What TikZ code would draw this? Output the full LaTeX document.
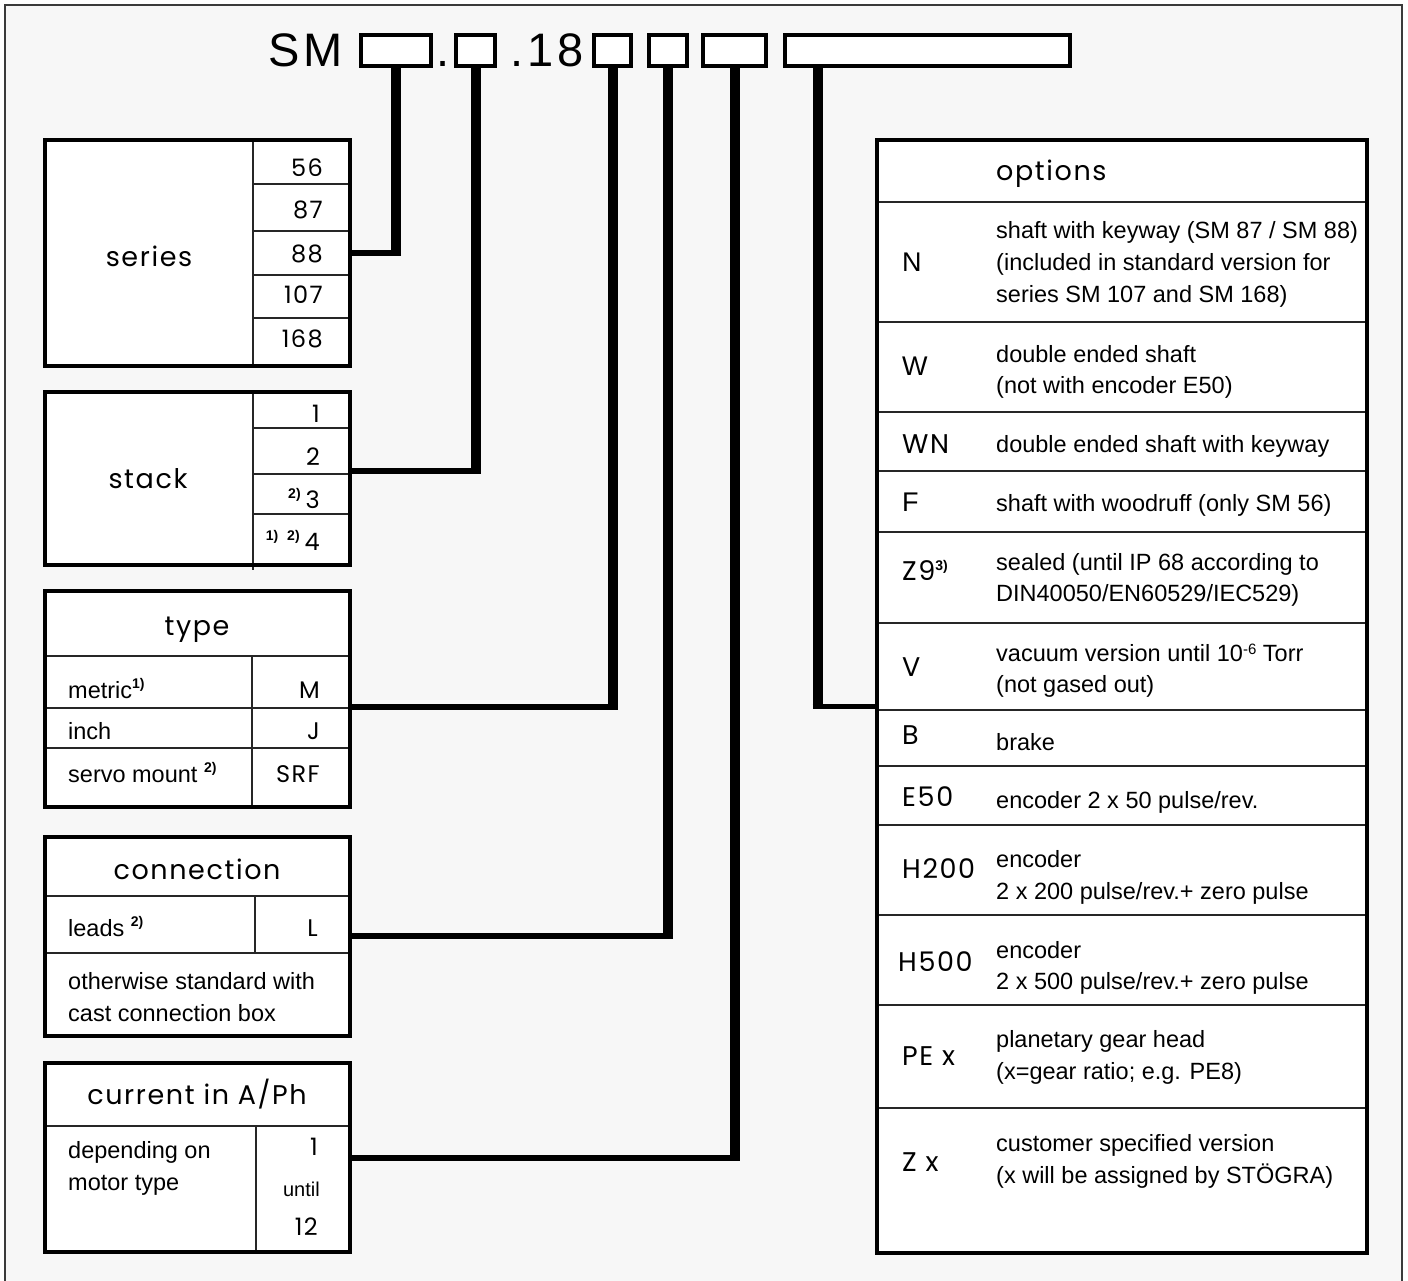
\documentclass[tikz,border=0pt]{standalone}
\usepackage{fontspec}
\usetikzlibrary{calc}
\setmainfont{Liberation Sans}
\newfontfamily\geofont{Poppins}[LetterSpace=6]
\newfontfamily\titlefont{Liberation Sans}[LetterSpace=8]
\newcommand{\fmark}[1]{\raisebox{10pt}{\normalfont\fontsize{14}{14}\selectfont\bfseries #1)}}
\definecolor{paper}{HTML}{F7F7F7}
\definecolor{framegray}{HTML}{3A3A3A}
\tikzset{
  panel/.style={draw, line width=4pt},
  rule/.style={line width=1.3pt, draw=black!85},
  slot/.style={draw, line width=4pt, fill=white, minimum height=31pt, inner sep=0pt},
  lead/.style={line width=10pt},
  tap/.style={line width=5.5pt},
  heading/.style={font=\geofont\fontsize{27}{32}\selectfont, inner sep=0pt},
  code/.style={font=\geofont\fontsize{24}{28}\selectfont, inner sep=0pt},
  optcode/.style={font=\geofont\fontsize{27}{30}\selectfont, inner sep=0pt},
  body/.style={font=\fontsize{23.5}{32}\selectfont, inner sep=0pt},
  title/.style={font=\titlefont\fontsize{47}{50}\selectfont, inner sep=0pt},
}
\begin{document}
\begin{tikzpicture}[x=1pt, y=-1pt]

\useasboundingbox (0,0) rectangle (1408,1280);
\clip (0,0) rectangle (1408,1280);
\fill[white] (0,0) rectangle (1408,1280);
\fill[paper] (5,5) rectangle (1402,1290);
\draw[framegray, line width=2pt] (5,1290) |- (1402,5) -- (1402,1290);

% type code
\node[title, anchor=base west] (sm) at (268,66) {SM};
\node[title, anchor=base] (dot) at (443,66) {.};
\node[title, anchor=base east] (num) at (584,66) {.18};

\foreach \x/\w [count=\i] in {396/70, 475.5/39, 612.5/37, 668/38, 734.5/63, 927.5/285}
  \node[slot, minimum width=\w pt] (slot-\i) at (\x,50.5) {};

\foreach \i in {1,...,5}
  \coordinate (stem-\i) at (slot-\i.south);
\coordinate (stem-6) at ([xshift=34.5pt]slot-6.south west);

\foreach \y [count=\i] in {253, 471, 707, 936, 1158}
  \coordinate (tap-\i) at (350,\y);
\coordinate (tap-6) at (877,706.5);

% panels
\foreach \xa/\ya/\xb/\yb in {45/140/350/366, 45/392/350/565, 45/591/350/807,
                             45/837/350/1036, 45/1063/350/1252, 877/140/1367/1253}
  \fill[white] (\xa,\ya) rectangle (\xb,\yb);

\draw[rule] (253,140) -- (253,366);
\foreach \y in {184,231,275,318}
  \draw[rule] (253,\y) -- (350,\y);
\draw[rule] (253,392) -- (253,570);
\foreach \y in {428,474,514}
  \draw[rule] (253,\y) -- (350,\y);
\foreach \y in {656,708,748}
  \draw[rule] (45,\y) -- (350,\y);
\draw[rule] (252,656) -- (252,807);
\foreach \y in {896,953}
  \draw[rule] (45,\y) -- (350,\y);
\draw[rule] (255,896) -- (255,953);
\draw[rule] (45,1126) -- (350,1126);
\draw[rule] (256,1126) -- (256,1252);
\foreach \y in {202,322,412,471,532,623,710,766,825,915,1005,1108}
  \draw[rule] (877,\y) -- (1367,\y);

\foreach \xa/\ya/\xb/\yb in {45/140/350/366, 45/392/350/565, 45/591/350/807,
                             45/837/350/1036, 45/1063/350/1252, 877/140/1367/1253}
  \draw[panel] (\xa,\ya) rectangle (\xb,\yb);

% series and stack
\node[heading, anchor=base] (series) at (149,266) {series};
\foreach \v/\y [count=\i] in {56/176, 87/218, 88/262, 107/303, 168/347}
  \node[code, anchor=base east] (ser-\i) at (323,\y) {\v};

\node[heading, anchor=base] (stack) at (148,488) {stack};
\foreach \v/\y [count=\i] in {1/422, 2/465, {\fmark{2}\hspace{5pt}3}/508,
                              {\fmark{1}\hspace{9pt}\fmark{2}\hspace{5pt}4}/550}
  \node[code, anchor=base east] (stk-\i) at (320,\y) {\v};

% type, connection, current
\node[heading, anchor=base] (type) at (197,635) {type};
\foreach \l/\c/\y [count=\i] in {{metric\fmark{1}}/M/698, inch/J/739, {servo mount \fmark{2}}/SRF/782} {
  \node[body, anchor=base west] (typ-\i) at (68,\y) {\l};
  \node[code, anchor=base east] (typ-c\i) at (320,\y) {\c};
}

\node[heading, anchor=base] (connection) at (197,879) {connection};
\node[body, anchor=base west] (con-1) at (68,936) {leads \fmark{2}};
\node[code, anchor=base east] (con-c1) at (318,936) {L};
\node[body, anchor=base west] (con-2) at (68,989) {otherwise standard with};
\node[body, anchor=base west] (con-3) at (68,1021) {cast connection box};

\node[heading, anchor=base] (current) at (197,1104) {current in A/Ph};
\node[body, anchor=base west] (cur-1) at (68,1158) {depending on};
\node[body, anchor=base west] (cur-2) at (68,1190) {motor type};
\node[code, anchor=base east] (cur-c1) at (318,1155) {1};
\node[body, anchor=base east, font=\fontsize{20}{24}\selectfont] (cur-c2) at (320,1196) {until};
\node[code, anchor=base east] (cur-c3) at (318,1235) {12};

% options
\node[heading, anchor=base west] (options) at (996,180) {options};
\foreach \c/\x/\y [count=\i] in {{\rmfamily N}/902/271, {\rmfamily W}/902/375, WN/902/453,
    {\rmfamily F}/902/511, {Z9\fmark{3}}/902/580, V/902/676, B/902/744, E50/902/806,
    H200/902/878, H500/898/971, {PE x}/902/1065, {Z x}/902/1171}
  \node[optcode, anchor=base west] (opt-\i) at (\x,\y) {\c};

\foreach \y/\t [count=\i] in {238/{shaft with keyway (SM 87 / SM 88)},
    270/{(included in standard version for}, 302/{series SM 107 and SM 168)},
    362/{double ended shaft}, 393/{(not with encoder E50)},
    452/{double ended shaft with keyway}, 511/{shaft with woodruff (only SM 56)},
    570/{sealed (until IP 68 according to}, 601/{DIN40050/EN60529/IEC529)},
    661/{vacuum version until 10\raisebox{7pt}{\fontsize{15}{15}\selectfont -6} Torr},
    692/{(not gased out)}, 750/{brake}, 808/{encoder 2 x 50 pulse/rev.},
    867/{encoder}, 899/{2 x 200 pulse/rev.+ zero pulse},
    958/{encoder}, 989/{2 x 500 pulse/rev.+ zero pulse},
    1047/{planetary gear head}, 1079/{(x=gear ratio; e.g. PE8)},
    1151/{customer specified version}, 1183/{(x will be assigned by STÖGRA)}}
  \node[body, anchor=base west] (desc-\i) at (996,\y) {\t};

% leads
\foreach \i in {1,...,5} {
  \draw[lead] (stem-\i) -- ($(stem-\i |- tap-\i)+(0,2.75)$);
  \draw[tap] ($(stem-\i |- tap-\i)+(5,0)$) -- (tap-\i);
}
\draw[lead] (stem-6) -- ($(stem-6 |- tap-6)+(0,2.75)$);
\draw[tap] ($(stem-6 |- tap-6)+(-5,0)$) -- (tap-6);

\end{tikzpicture}
\end{document}
